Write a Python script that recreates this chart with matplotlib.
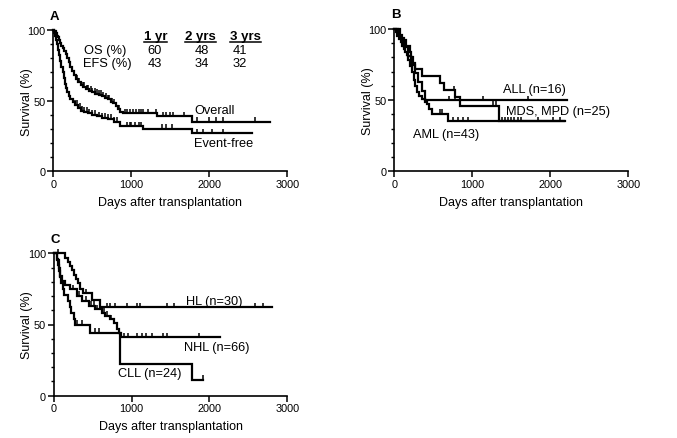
import numpy as np
import matplotlib
matplotlib.use("Agg")
import matplotlib.pyplot as plt
from matplotlib.ticker import MultipleLocator, FixedLocator
from matplotlib.lines import Line2D

plt.rcParams['font.family'] = ['Liberation Sans', 'DejaVu Sans']

# ---------------- Panel A data ----------------
os_t = [0, 15, 30, 45, 60, 75, 90, 105, 120, 140, 160, 180, 200, 220, 240, 260, 290, 320, 350,
        380, 420, 460, 500, 540, 580, 620, 660, 700, 740, 770, 800, 830, 860, 890, 1330, 1780]
os_s = [100, 99, 98, 96, 95, 93, 91, 89, 87, 85, 83, 80, 77, 74, 71, 68, 65, 63, 61,
        60, 58, 57, 56, 55, 54, 53, 52, 51, 49, 48, 46, 44, 42, 41, 39, 35]
os_end = 2780
os_cens = [300, 330, 350, 380, 400, 430, 450, 480, 500, 530, 560, 590, 610, 640, 670, 700, 720,
           750, 780, 810, 840, 920, 950, 980, 1020, 1060, 1100, 1120, 1150, 1220, 1320, 1410,
           1450, 1500, 1540, 1670, 1840, 1990, 2090, 2180, 2590]

efs_t = [0, 10, 20, 30, 45, 60, 75, 90, 105, 120, 135, 150, 165, 180, 200, 220, 250, 280, 320,
         360, 400, 450, 500, 560, 620, 700, 780, 850, 1150, 1780]
efs_s = [100, 98, 96, 93, 90, 86, 82, 78, 74, 70, 66, 62, 59, 56, 53, 51, 49, 47, 45,
         43, 42, 41, 40, 39, 38, 37, 35, 32, 30, 27]
efs_end = 2545
efs_cens = [280, 310, 340, 370, 400, 430, 460, 500, 540, 580, 620, 660, 700, 740, 780, 820,
            940, 980, 1000, 1050, 1100, 1130, 1390, 1450, 1520, 1840, 1920, 2030, 2180]

table_cols = ['1 yr', '2 yrs', '3 yrs']
table_rows = ['OS (%)', 'EFS (%)']
table_os = [60, 48, 41]
table_efs = [43, 34, 32]

# ---------------- Panel B data ----------------
all_t = [0, 70, 130, 180, 220, 260, 300, 350, 395]
all_s = [100, 93.75, 87.5, 81.25, 75, 68.75, 62.5, 56.25, 50]
all_end = 2210
all_cens = [700, 780, 1140, 1720]

mds_t = [0, 50, 100, 150, 200, 215, 240, 270, 355, 590, 633, 783, 847, 1346]
mds_s = [100, 96, 92, 88, 84, 80, 76, 72, 67, 62, 57, 52, 46, 35]
mds_end = 2190
mds_cens = [360, 760, 1270, 1310, 1380, 1420, 1460, 1500, 1540, 1580, 1620, 1840, 2120]

aml_t = [0, 20, 40, 60, 80, 100, 120, 140, 160, 180, 205, 225, 248, 270, 291, 320, 355, 390,
         419, 440, 483, 690]
aml_s = [100, 97.7, 95.3, 93, 90.7, 88.4, 86, 83.7, 81.4, 78, 74, 70, 64, 60, 56, 53, 51, 49,
         47, 44, 40.5, 35]
aml_end = 2170
aml_cens = [590, 612, 756, 821, 885, 950, 2040]

# ---------------- Panel C data ----------------
hl_t = [0, 150, 190, 215, 235, 260, 280, 310, 340, 370, 490, 595]
hl_s = [100, 97, 94, 91, 88, 85, 82, 79, 75, 72, 67, 62]
hl_end = 2800
hl_cens = [60, 410, 690, 720, 790, 940, 1070, 1110, 1450, 1540, 2590, 2690]

nhl_t = [0, 40, 64, 85, 107, 149, 213, 299, 363, 448, 534, 619, 662, 726, 769, 812, 833, 870]
nhl_s = [100, 95, 90, 84, 80.5, 78, 74.7, 70, 66.5, 63, 60.7, 58.3, 56, 53.6, 51.3, 46.6, 44.2, 41]
nhl_end = 2130
nhl_cens = [250, 330, 420, 480, 520, 560, 640, 690, 740, 780, 900, 960, 1070, 1130, 1190,
            1260, 1410, 1450, 1860]

cll_t = [0, 40, 55, 65, 85, 100, 115, 128, 180, 205, 225, 255, 277, 470, 850, 1770]
cll_s = [100, 95.8, 91.7, 87.5, 83.3, 79.2, 75, 70.8, 66.7, 62.5, 58.3, 54.2, 50, 44, 22, 11]
cll_end = 1920
cll_cens = [295, 359, 530, 580, 1920]

x_ticks = [0, 1000, 2000, 3000]
y_ticks = [0, 50, 100]

W, H = 677, 439
fig = plt.figure(figsize=(W / 100, H / 100), dpi=100)

FS_ANN = 9.2
FS_TAB = 9.3


def make_ax(px_left, px_right, py_top, py_bottom, letter):
    ax = fig.add_axes([px_left / W, 1 - py_bottom / H, (px_right - px_left) / W,
                       (py_bottom - py_top) / H])
    ax.set_xlim(0, 3000)
    ax.set_ylim(0, 100)
    for s in ['top', 'right']:
        ax.spines[s].set_visible(False)
    for s in ['left', 'bottom']:
        ax.spines[s].set_linewidth(1.2)
    ax.xaxis.set_major_locator(FixedLocator(x_ticks))
    ax.yaxis.set_major_locator(FixedLocator(y_ticks))
    ax.yaxis.set_minor_locator(MultipleLocator(10))
    ax.tick_params(which='major', direction='out', length=4, width=1.1, labelsize=7.8, pad=1.5)
    ax.tick_params(which='minor', direction='out', length=2.5, width=1.0)
    ax.set_xlabel('Days after transplantation', fontsize=9, labelpad=5)
    ax.set_ylabel('Survival (%)', fontsize=9, labelpad=-4)
    ax.text(-0.015, 1.06, letter, transform=ax.transAxes, fontsize=9.5, fontweight='bold',
            ha='left', va='bottom')
    return ax


def km(ax, t, s, end, cens, lw=1.6):
    tt = list(t) + [end]
    ss = list(s) + [s[-1]]
    ax.step(tt, ss, where='post', color='black', lw=lw, clip_on=False, solid_joinstyle='miter')
    c = np.asarray(cens, dtype=float)
    idx = np.searchsorted(np.asarray(t), c, side='right') - 1
    yv = np.asarray(s, dtype=float)[idx]
    ax.vlines(c, yv, yv + 3.2, color='black', lw=1.1, clip_on=False)


# Panel A
axA = make_ax(53.3, 287.3, 31, 172.3, 'A')
km(axA, os_t, os_s, os_end, os_cens)
km(axA, efs_t, efs_s, efs_end, efs_cens)
axA.text(1808, 43.4, 'Overall', fontsize=FS_ANN, va='center', ha='left')
axA.text(1808, 20, 'Event-free', fontsize=FS_ANN, va='center', ha='left')
col_x = [1313, 1891, 2468]
headers = []
for x, lab in zip(col_x, table_cols):
    headers.append(axA.text(x, 96, lab, fontsize=9.5, fontweight='bold', ha='center',
                            va='center'))
axA.text(400, 85.8, table_rows[0], fontsize=FS_TAB, ha='left', va='center')
axA.text(380, 76.4, table_rows[1], fontsize=FS_TAB, ha='left', va='center')
val_x = [1304, 1902, 2393]
for x, v in zip(val_x, table_os):
    axA.text(x, 85.8, str(v), fontsize=FS_TAB, ha='center', va='center')
for x, v in zip(val_x, table_efs):
    axA.text(x, 76.4, str(v), fontsize=FS_TAB, ha='center', va='center')

# Panel B
axB = make_ax(394.3, 628.3, 30, 172.3, 'B')
km(axB, all_t, all_s, all_end, all_cens)
km(axB, mds_t, mds_s, mds_end, mds_cens)
km(axB, aml_t, aml_s, aml_end, aml_cens)
axB.text(1390, 57.8, 'ALL (n=16)', fontsize=FS_ANN, va='center', ha='left')
axB.text(1428, 42.2, 'MDS, MPD (n=25)', fontsize=FS_ANN, va='center', ha='left')
axB.text(236, 26.2, 'AML (n=43)', fontsize=FS_ANN, va='center', ha='left')

# Panel C
axC = make_ax(53.7, 287.3, 254.3, 396.7, 'C')
km(axC, hl_t, hl_s, hl_end, hl_cens)
km(axC, nhl_t, nhl_s, nhl_end, nhl_cens)
km(axC, cll_t, cll_s, cll_end, cll_cens)
axC.text(1705, 66.7, 'HL (n=30)', fontsize=FS_ANN, va='center', ha='left')
axC.text(1675, 34, 'NHL (n=66)', fontsize=FS_ANN, va='center', ha='left')
axC.text(828, 15.7, 'CLL (n=24)', fontsize=FS_ANN, va='center', ha='left')

# underline table headers
fig.canvas.draw()
r = fig.canvas.get_renderer()
for t in headers:
    bb = t.get_window_extent(renderer=r)
    x0, x1 = bb.x0 / (W), bb.x1 / (W)
    y = (bb.y0 - 0.5) / H
    fig.add_artist(Line2D([x0, x1], [y, y], color='black', lw=1.1))

fig.savefig('out.png', dpi=100)
